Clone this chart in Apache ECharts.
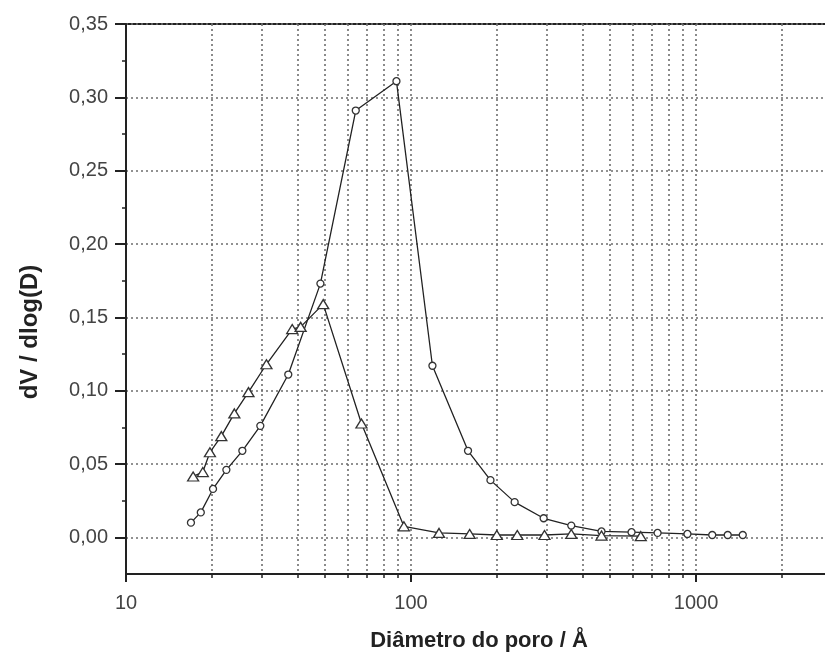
<!DOCTYPE html>
<html>
<head>
<meta charset="utf-8">
<script src="https://cdn.jsdelivr.net/npm/echarts@6/dist/echarts.min.js"></script>
<style>html,body{margin:0;padding:0;background:#fff;}#chart{width:825px;height:657px;}</style>
</head>
<body>
<div id="chart"></div>
<script>
// Series: circles
const circleD = [16.9, 18.3, 20.2, 22.5, 25.6, 29.6, 37.1, 48.1, 64.0, 88.9, 118.9, 158.5, 190, 231, 292, 365, 466, 594, 733, 933, 1140, 1292, 1459];
const circleV = [0.010, 0.017, 0.033, 0.046, 0.059, 0.076, 0.111, 0.173, 0.291, 0.311, 0.117, 0.059, 0.039, 0.024, 0.013, 0.008, 0.004, 0.0035, 0.003, 0.0023, 0.0016, 0.0016, 0.0016];
// Series: triangles
const triD = [17.2, 18.6, 19.7, 21.6, 24.0, 26.9, 31.1, 38.3, 41.0, 49.2, 67.0, 94.4, 125.4, 160.6, 200, 236, 294, 365, 466, 640];
const triV = [0.0415, 0.0445, 0.058, 0.069, 0.0845, 0.099, 0.118, 0.142, 0.1435, 0.159, 0.0776, 0.0075, 0.003, 0.0023, 0.0016, 0.0016, 0.0016, 0.0023, 0.0012, 0.0008];
// Axis ticks
const xMajorTicks = [10, 100, 1000];
const xMinorTicks = [20, 30, 40, 50, 60, 70, 80, 90, 100, 200, 300, 400, 500, 600, 700, 800, 900, 1000, 2000];
const yMajorTicks = [0, 0.05, 0.10, 0.15, 0.20, 0.25, 0.30, 0.35];
const yMinorTicks = [0.025, 0.075, 0.125, 0.175, 0.225, 0.275, 0.325];
const xTitle = 'Diâmetro do poro / Å';
const yTitle = 'dV / dlog(D)';

const zip = (a, b) => a.map((v, i) => [v, b[i]]);
const chart = echarts.init(document.getElementById('chart'), null, {renderer: 'canvas'});
const FONT = 'Liberation Sans, Arial, sans-serif';
const gridDash = {color: '#6e6e6e', width: 1.6, type: [2, 3]};

chart.setOption({
  animation: false,
  backgroundColor: '#fff',
  grid: {left: 126, top: 24, width: 706, height: 550, outerBoundsMode: 'none', containLabel: false,
         show: true, borderColor: '#222', borderWidth: 2, backgroundColor: 'transparent'},
  xAxis: [{
    type: 'log', logBase: 10, min: 10, max: 3000,
    name: xTitle, nameLocation: 'middle', nameGap: 56,
    nameTextStyle: {fontFamily: FONT, fontSize: 22, fontWeight: 'bold', color: '#222'},
    axisLine: {show: true, onZero: false, lineStyle: {color: '#222', width: 2}},
    axisTick: {show: true, customValues: xMajorTicks, length: 8, lineStyle: {color: '#222', width: 2}},
    axisLabel: {customValues: xMajorTicks, margin: 19, fontFamily: FONT, fontSize: 20, color: '#444', formatter: v => String(v)},
    splitLine: {show: false},
    minorTick: {show: false}, minorSplitLine: {show: false}
  }, {
    type: 'log', logBase: 10, min: 10, max: 3000, position: 'bottom', gridIndex: 0,
    axisLine: {show: false, onZero: false},
    axisTick: {show: true, customValues: xMinorTicks, length: 4, lineStyle: {color: '#222', width: 1.5}},
    axisLabel: {show: false},
    splitLine: {show: true, lineStyle: gridDash}
  }],
  yAxis: [{
    type: 'value', min: -0.025, max: 0.35,
    name: yTitle, nameLocation: 'middle', nameGap: 84, nameRotate: 90,
    nameTextStyle: {fontFamily: FONT, fontSize: 24, fontWeight: 'bold', color: '#222', padding: [0, 66, 0, 0]},
    axisLine: {show: true, onZero: false, lineStyle: {color: '#222', width: 2}},
    axisTick: {show: true, customValues: yMajorTicks, length: 11, lineStyle: {color: '#222', width: 2}},
    axisLabel: {customValues: yMajorTicks, margin: 18, fontFamily: FONT, fontSize: 20, color: '#444', formatter: v => v.toFixed(2).replace('.', ',')},
    splitLine: {show: true, lineStyle: gridDash}
  }, {
    type: 'value', min: -0.025, max: 0.35, position: 'left', gridIndex: 0,
    axisLine: {show: false, onZero: false},
    axisTick: {show: true, customValues: yMinorTicks, length: 4, lineStyle: {color: '#222', width: 1.5}},
    axisLabel: {show: false},
    splitLine: {show: false}
  }],
  series: [{
    type: 'line', xAxisIndex: 0, yAxisIndex: 0,
    data: zip(circleD, circleV),
    symbol: 'circle', symbolSize: 7, showAllSymbol: true,
    lineStyle: {color: '#222', width: 1.3},
    itemStyle: {color: '#fff', borderColor: '#333', borderWidth: 1.3},
    z: 3
  }, {
    type: 'line', xAxisIndex: 0, yAxisIndex: 0,
    data: zip(triD, triV),
    symbol: 'triangle', symbolSize: [11, 9], showAllSymbol: true,
    lineStyle: {color: '#222', width: 1.3},
    itemStyle: {color: '#fff', borderColor: '#333', borderWidth: 1.3},
    z: 3
  }]
});
</script>
</body>
</html>
